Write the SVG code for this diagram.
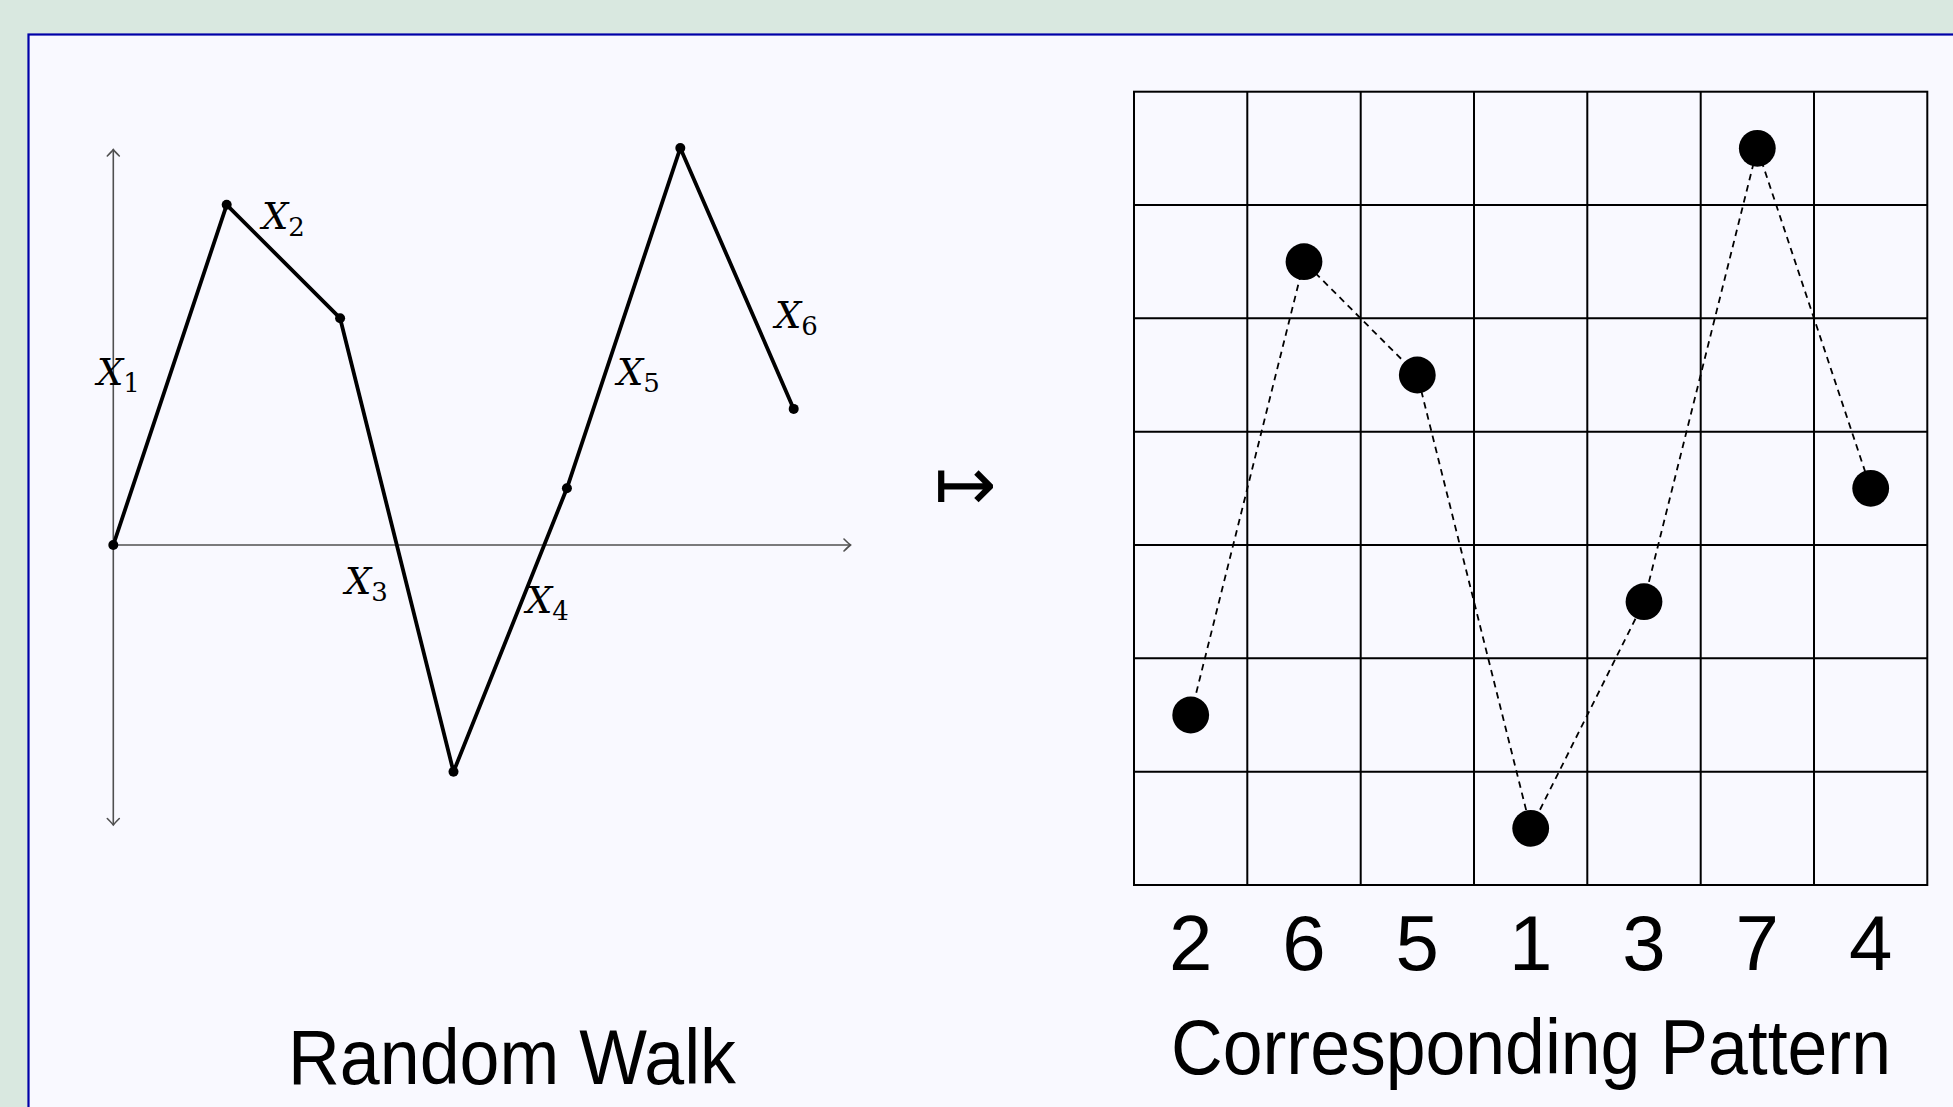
<svg xmlns="http://www.w3.org/2000/svg" width="1953" height="1107" viewBox="0 0 1953 1107">
  <style>
    .axis { stroke: #505050; stroke-width: 1.6; fill: none; }
    .walk { stroke: #000; stroke-width: 3.8; fill: none; stroke-linejoin: round; }
    .vdot { fill: #000; }
    .grid { stroke: #000; stroke-width: 2; fill: none; }
    .dash { stroke: #000; stroke-width: 1.8; stroke-dasharray: 6.5 5; fill: none; }
    .gdot { fill: #000; }
    .lbl { font-family: "DejaVu Serif", "Liberation Serif", serif; fill: #000; }
    .lx { font-style: italic; font-size: 37px; }
    .ls { font-size: 26px; }
    .num { font-family: "Liberation Sans", Arial, sans-serif; font-size: 78px; fill: #000; text-anchor: middle; }
    .title { font-family: "Liberation Sans", Arial, sans-serif; font-size: 77px; fill: #000; }
  </style>
  <defs>
    <marker id="tip" viewBox="-8 -8 10 16" markerWidth="10" markerHeight="16" refX="0" refY="0" orient="auto-start-reverse" markerUnits="userSpaceOnUse">
      <path d="M -6.5 -6 Q -2 -1.5 0 0 Q -2 1.5 -6.5 6" fill="none" stroke="#505050" stroke-width="1.6" stroke-linecap="round"/>
    </marker>
  </defs>

  <rect x="0" y="0" width="1953" height="1107" fill="#d9e8e0"/>
  <rect id="frame" x="28.5" y="34.5" width="2000" height="1200" fill="#f9f9ff" stroke="#0000a8" stroke-width="2.2"/>

  <g id="axes">
    <line class="axis" x1="113.3" y1="825" x2="113.3" y2="149.5" marker-start="url(#tip)" marker-end="url(#tip)"/>
    <line class="axis" x1="113.3" y1="545" x2="850.5" y2="545" marker-end="url(#tip)"/>
  </g>

  <g id="walk">
    <polyline class="walk" points="113.3,545 226.7,204.8 340.1,318.2 453.5,771.8 566.9,488.3 680.3,148.1 793.7,408.9"/>
    <circle class="vdot" cx="113.3" cy="545" r="5"/>
    <circle class="vdot" cx="226.7" cy="204.8" r="5"/>
    <circle class="vdot" cx="340.1" cy="318.2" r="5"/>
    <circle class="vdot" cx="453.5" cy="771.8" r="5"/>
    <circle class="vdot" cx="566.9" cy="488.3" r="5"/>
    <circle class="vdot" cx="680.3" cy="148.1" r="5"/>
    <circle class="vdot" cx="793.7" cy="408.9" r="5"/>
  </g>

  <g id="walk-labels">
    <text class="lbl" x="97" y="385"><tspan class="lx">X</tspan><tspan class="ls" dx="0" dy="7">1</tspan></text>
    <text class="lbl" x="262" y="229"><tspan class="lx">X</tspan><tspan class="ls" dx="0" dy="7">2</tspan></text>
    <text class="lbl" x="345" y="594"><tspan class="lx">X</tspan><tspan class="ls" dx="0" dy="7">3</tspan></text>
    <text class="lbl" x="526" y="612.7"><tspan class="lx">X</tspan><tspan class="ls" dx="0" dy="7">4</tspan></text>
    <text class="lbl" x="617" y="385"><tspan class="lx">X</tspan><tspan class="ls" dx="0" dy="7">5</tspan></text>
    <text class="lbl" x="775" y="328.3"><tspan class="lx">X</tspan><tspan class="ls" dx="0" dy="7">6</tspan></text>
  </g>

  <g id="mapsto">
    <text x="934" y="510" font-family="DejaVu Sans, sans-serif" font-size="75">↦</text>
  </g>

  <g id="grid">
    <rect class="grid" x="1134" y="91.7" width="793.3" height="793.3"/>
    <path class="grid" d="M1247.3 91.7V885M1360.7 91.7V885M1474 91.7V885M1587.3 91.7V885M1700.7 91.7V885M1814 91.7V885M1134 205H1927.3M1134 318.3H1927.3M1134 431.7H1927.3M1134 545H1927.3M1134 658.3H1927.3M1134 771.7H1927.3"/>
  </g>

  <g id="connectors">
    <polyline class="dash" points="1190.7,715 1304,261.7 1417.3,375 1530.7,828.3 1644,601.7 1757.3,148.3 1870.7,488.3"/>
  </g>

  <g id="pattern-dots">
    <circle class="gdot" cx="1190.7" cy="715" r="18.4"/>
    <circle class="gdot" cx="1304" cy="261.7" r="18.4"/>
    <circle class="gdot" cx="1417.3" cy="375" r="18.4"/>
    <circle class="gdot" cx="1530.7" cy="828.3" r="18.4"/>
    <circle class="gdot" cx="1644" cy="601.7" r="18.4"/>
    <circle class="gdot" cx="1757.3" cy="148.3" r="18.4"/>
    <circle class="gdot" cx="1870.7" cy="488.3" r="18.4"/>
  </g>

  <g id="pattern-numbers">
    <text class="num" x="1190.7" y="969.5">2</text>
    <text class="num" x="1304" y="969.5">6</text>
    <text class="num" x="1417.3" y="969.5">5</text>
    <text class="num" x="1530.7" y="969.5">1</text>
    <text class="num" x="1644" y="969.5">3</text>
    <text class="num" x="1757.3" y="969.5">7</text>
    <text class="num" x="1870.7" y="969.5">4</text>
  </g>

  <g id="titles">
    <text class="title" x="288" y="1084" textLength="448" lengthAdjust="spacingAndGlyphs">Random Walk</text>
    <text class="title" x="1171" y="1074" textLength="720" lengthAdjust="spacingAndGlyphs">Corresponding Pattern</text>
  </g>
</svg>
